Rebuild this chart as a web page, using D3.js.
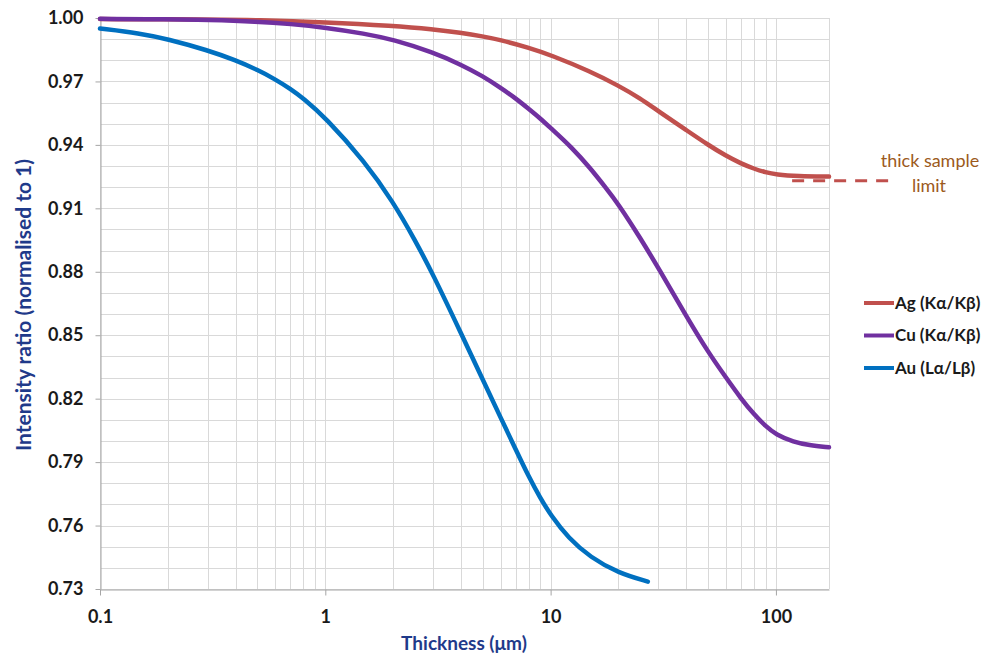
<!DOCTYPE html>
<html>
<head>
<meta charset="utf-8">
<script src="https://cdn.jsdelivr.net/npm/d3@7"></script>
<style>
    body { margin: 0; background: #fff; }
    text { font-family: Lato, "Open Sans", sans-serif; }
</style>
</head>
<body>
<script>
// thickness in um
var agThickness = [0.1, 0.3, 0.5, 1, 2, 3, 4, 5, 6, 8, 10, 15, 20, 25, 30, 40, 50, 60, 70, 80, 90, 100, 125, 172];
var agRatio = [0.9995, 0.9993, 0.999, 0.998, 0.9963, 0.9947, 0.993, 0.9913, 0.9896, 0.986, 0.9825, 0.9748, 0.968, 0.962, 0.956, 0.947, 0.940, 0.9348, 0.9312, 0.9287, 0.927, 0.926, 0.9252, 0.925];

var cuThickness = [0.1, 0.2, 0.3, 0.5, 0.7, 1, 1.5, 2, 3, 4, 5, 6, 7, 8, 9, 10, 12.5, 15, 17.5, 20, 25, 30, 40, 50, 60, 70, 80, 90, 100, 120, 140, 172];
var cuRatio = [0.9996, 0.9994, 0.9991, 0.9983, 0.9972, 0.9955, 0.9926, 0.9898, 0.9838, 0.978, 0.9725, 0.967, 0.962, 0.957, 0.9525, 0.948, 0.9385, 0.929, 0.920, 0.912, 0.896, 0.882, 0.859, 0.842, 0.830, 0.820, 0.8125, 0.807, 0.803, 0.7995, 0.798, 0.797];

var auThickness = [0.1, 0.15, 0.2, 0.3, 0.4, 0.5, 0.6, 0.7, 0.8, 1, 1.5, 2, 2.5, 3, 4, 5, 6, 7, 8, 9, 10, 12, 15, 20, 27];
var auRatio = [0.995, 0.9928, 0.990, 0.9848, 0.980, 0.9755, 0.971, 0.9665, 0.962, 0.953, 0.932, 0.913, 0.895, 0.879, 0.851, 0.829, 0.811, 0.796, 0.783, 0.773, 0.765, 0.754, 0.745, 0.7375, 0.7335];

var seriesNames = ["Ag (K\u03b1/K\u03b2)", "Cu (K\u03b1/K\u03b2)", "Au (L\u03b1/L\u03b2)"];
var seriesColors = ["#c0504d", "#7030a0", "#0070c0"];

var yTicks = [0.73, 0.76, 0.79, 0.82, 0.85, 0.88, 0.91, 0.94, 0.97, 1.00];
var xTicks = [0.1, 1, 10, 100];
var xTickLabels = ["0.1", "1", "10", "100"];

var limitValue = 0.923;
var limitThickness = [118, 330];

var svg = d3.select("body").append("svg").attr("width", 995).attr("height", 657);

var x = d3.scaleLog().domain([0.1, 172]).range([100, 829]);
var y = d3.scaleLinear().domain([0.73, 1.0]).range([589, 18]);

// grid
var grid = svg.append("g").attr("stroke", "#d9d9d9").attr("stroke-width", 1);
grid.selectAll(".v").data(x.ticks().concat([172])).enter().append("line")
    .attr("x1", function (d) { return Math.round(x(d)) + 0.5; })
    .attr("x2", function (d) { return Math.round(x(d)) + 0.5; })
    .attr("y1", y(1.0)).attr("y2", y(0.73));
grid.selectAll(".h").data(d3.range(73, 101).map(function (d) { return d / 100; })).enter().append("line")
    .attr("x1", x(0.1)).attr("x2", x(172))
    .attr("y1", function (d) { return Math.round(y(d)) + 0.5; })
    .attr("y2", function (d) { return Math.round(y(d)) + 0.5; });

// axes
var yAxis = svg.append("g").attr("transform", "translate(100.5,0)")
    .call(d3.axisLeft(y).tickValues(yTicks).tickFormat(d3.format(".2f")).tickSize(5).tickSizeOuter(0).tickPadding(12));
var xAxis = svg.append("g").attr("transform", "translate(0,589.5)")
    .call(d3.axisBottom(x).tickValues(xTicks).tickFormat(function (d, i) { return xTickLabels[i]; }).tickSize(6).tickSizeOuter(0).tickPadding(15));

[yAxis, xAxis].forEach(function (a) {
    a.select(".domain").attr("stroke", "#a6a6a6");
    a.selectAll(".tick line").attr("stroke", "#a6a6a6");
    a.selectAll(".tick text").attr("fill", "#1a1a1a").style("font-size", "18px").style("font-weight", "bold")
        .style("font-family", "Lato, sans-serif");
});

// curves
var line = d3.line()
    .x(function (d) { return x(d[0]); })
    .y(function (d) { return y(d[1]); })
    .curve(d3.curveBasis);

var series = [d3.zip(agThickness, agRatio), d3.zip(cuThickness, cuRatio), d3.zip(auThickness, auRatio)];

// thick sample limit
svg.append("line")
    .attr("x1", x(limitThickness[0])).attr("x2", x(limitThickness[1]))
    .attr("y1", y(limitValue)).attr("y2", y(limitValue))
    .attr("stroke", "#c0504d").attr("stroke-width", 3).attr("stroke-dasharray", "12,9");

series.forEach(function (s, i) {
    svg.append("path").datum(s).attr("d", line)
        .attr("fill", "none").attr("stroke", seriesColors[i]).attr("stroke-width", 4.5)
        .attr("stroke-linecap", "round");
});

svg.append("text").attr("x", 930).attr("y", 167).attr("text-anchor", "middle")
    .attr("fill", "#9c5a1c").style("font-size", "18px").text("thick sample");
svg.append("text").attr("x", 929).attr("y", 192).attr("text-anchor", "middle")
    .attr("fill", "#9c5a1c").style("font-size", "18px").text("limit");

// legend
var legend = svg.selectAll(".legend").data(seriesNames).enter().append("g")
    .attr("transform", function (d, i) { return "translate(0," + (303 + i * 32.5) + ")"; });
legend.append("line").attr("x1", 864).attr("x2", 894).attr("y1", 0).attr("y2", 0)
    .attr("stroke", function (d, i) { return seriesColors[i]; }).attr("stroke-width", 4);
legend.append("text").attr("x", 895).attr("y", 0).attr("dy", "0.35em")
    .attr("fill", "#1a1a1a").style("font-size", "17px").style("font-weight", "bold").text(function (d) { return d; });

// axis titles
svg.append("text").attr("transform", "translate(31,305) rotate(-90)").attr("text-anchor", "middle")
    .attr("fill", "#1f3a8a").style("font-size", "21px").style("font-weight", "bold")
    .text("Intensity ratio (normalised to 1)");
svg.append("text").attr("x", 464).attr("y", 650).attr("text-anchor", "middle")
    .attr("fill", "#1f3a8a").style("font-size", "19px").style("font-weight", "bold")
    .text("Thickness (\u03bcm)");
</script>
</body>
</html>
